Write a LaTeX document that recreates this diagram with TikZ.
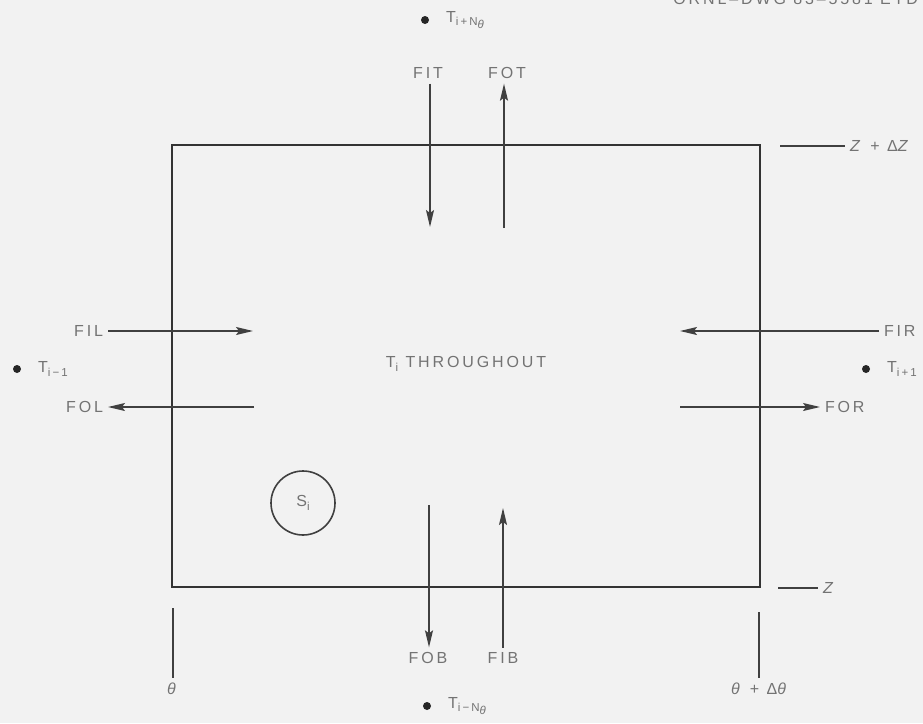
\documentclass[tikz,border=0pt]{standalone}
\usepackage{fontspec}
\setmainfont{Liberation Sans}[LetterSpace=18]
\usetikzlibrary{arrows.meta, positioning, calc}
\newcommand{\lowidx}[1]{\raisebox{-0.45ex}{\fontsize{11.5}{12}\selectfont #1}}

\begin{document}
\begin{tikzpicture}[x=1pt, y=-1pt,
  lbl/.style={text=black!55, font=\fontsize{16}{18}\selectfont, inner sep=1pt, outer sep=4pt},
  flow/.style={line width=1.4pt, draw=black!75, -{Stealth[length=17pt, width=8pt, inset=3pt]}},
  wall/.style={line width=2.6pt, draw=black!80},
  tickln/.style={line width=1.8pt, draw=black!75},
  dot/.style={circle, fill=black!85, inner sep=0pt, minimum size=8pt}]
\fill[black!5] (0,0) rectangle (923,723);
\useasboundingbox (0,0) rectangle (923,723);

% control volume
\coordinate (nw) at (172,145);
\coordinate (se) at (760,587);
\draw[wall] (nw) rectangle (se);
\node[lbl] (inside) at (466,364) {T\lowidx{i} THROUGHOUT};
\node[draw=black!75, line width=1.6pt, circle, minimum size=64pt, inner sep=0pt, text=black!55,
  font=\fontsize{16}{18}\selectfont] (src) at (303,503) {S\lowidx{i}};

\node[lbl, anchor=east] (dwg) at (923,-1) {ORNL–DWG 83–5581 ETD};

% neighbours
\node[dot] (dtop) at (425,20) {};
\node[lbl, right=12pt of dtop] (ttop) {T\lowidx{i+N\lowidx{\itshape θ}}};
\node[dot] (dbot) at (427,706) {};
\node[lbl, right=12pt of dbot] (tbot) {T\lowidx{i−N\lowidx{\itshape θ}}};
\node[dot] (dleft) at (17,369) {};
\node[lbl, right=12pt of dleft] (tleft) {T\lowidx{i−1}};
\node[dot] (dright) at (866,369) {};
\node[lbl, right=12pt of dright] (tright) {T\lowidx{i+1}};

% top face
\node[lbl] (fit) at (428,73) {FIT};
\node[lbl] (fot) at (507,73) {FOT};
\coordinate (fitend) at (430,227);
\coordinate (fotbeg) at (504,228);
\draw[flow] (fit.south -| fitend) -- (fitend);
\draw[flow] (fotbeg) -- (fot.south -| fotbeg);

% bottom face
\node[lbl] (fob) at (428,658) {FOB};
\node[lbl] (fib) at (503,658) {FIB};
\coordinate (fobbeg) at (429,505);
\coordinate (fibend) at (503,508);
\draw[flow] (fobbeg) -- (fob.north -| fobbeg);
\draw[flow] (fib.north -| fibend) -- (fibend);

% left face
\node[lbl, anchor=east] (fil) at (108,331) {FIL};
\node[lbl, anchor=east] (fol) at (108,407) {FOL};
\coordinate (filend) at (253,331);
\coordinate (folbeg) at (254,407);
\draw[flow] (fil) -- (filend);
\draw[flow] (folbeg) -- (fol);

% right face
\node[lbl, anchor=west] (fir) at (879,331) {FIR};
\node[lbl, anchor=west] (for) at (820,407) {FOR};
\coordinate (firend) at (680,331);
\coordinate (forbeg) at (680,407);
\draw[flow] (fir) -- (firend);
\draw[flow] (forbeg) -- (for);

% levels
\coordinate (ztopa) at (780,146);
\coordinate (zbota) at (778,588);
\node[lbl, anchor=west] (ztop) at (845,146) {\textit{Z} + Δ\textit{Z}};
\node[lbl, anchor=west] (zbot) at (818,588) {\textit{Z}};
\draw[tickln, line width=1.4pt] (ztopa) -- (ztop);
\draw[tickln, line width=1.4pt] (zbota) -- (zbot);

% angles
\node[lbl] (tha) at (173,689) {\textit{θ}};
\node[lbl] (thb) at (760,689) {\textit{θ} + Δ\textit{θ}};
\coordinate (thatop) at (173,608);
\coordinate (thbtop) at (759,612);
\draw[tickln] (thatop) -- (tha.north -| thatop);
\draw[tickln] (thbtop) -- (thb.north -| thbtop);
\end{tikzpicture}
\end{document}
